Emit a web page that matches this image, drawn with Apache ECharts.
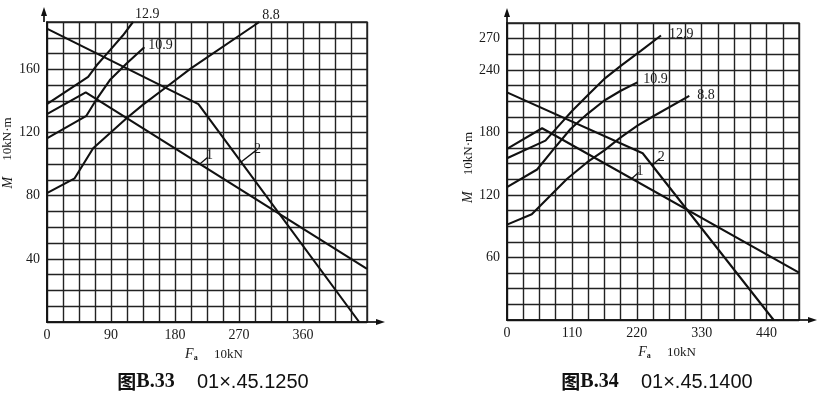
<!DOCTYPE html>
<html>
<head>
<meta charset="utf-8">
<script src="https://cdn.jsdelivr.net/npm/echarts@6/dist/echarts.min.js"></script>
<style>
  html, body { margin: 0; padding: 0; background: #fff; }
  #main { width: 820px; height: 398px; }
</style>
</head>
<body>
<div id="main"></div>
<script>
// 图B.33  01×.45.1250  (Fa 10kN, M 10kN·m)
var b33_12_9 = [[0, 138], [58, 155.3], [70, 162.6], [88.5, 172], [107, 181.6], [121, 190]];
var b33_10_9 = [[0, 116.3], [55.5, 130.6], [70, 141.2], [88.5, 153.2], [112, 163.7], [137, 174]];
var b33_8_8 = [[0, 81.6], [39, 91], [65, 110], [88.5, 119.5], [112, 129], [135.6, 137.8], [168.5, 149], [202, 160.5], [298.6, 190]];
var b33_line1 = [[0, 131.7], [54.6, 145.4], [450, 33.6]];
var b33_line2 = [[0, 185.8], [213, 138], [439, 0]];
var b33XTicks = [0, 90, 180, 270, 360];
var b33YTicks = [40, 80, 120, 160];
var b33Lead1 = [[215, 100], [226.6, 104.5]];
var b33Lead2 = [[273, 101.4], [294, 108.7]];

// 图B.34  01×.45.1400
var b34_12_9 = [[0, 155.2], [65.2, 172.1], [87.9, 186.5], [110.6, 200.8], [136, 215.2], [164.4, 231.1], [192.8, 243.9], [226.8, 258.2], [261, 273]];
var b34_10_9 = [[0, 127.5], [51, 144.4], [79.4, 164.2], [107.7, 183.3], [136, 197.6], [164.4, 210.4], [192.8, 220], [221, 228]];
var b34_8_8 = [[0, 91.5], [42, 101.5], [73.7, 119.5], [102, 135.5], [136, 151.4], [164.4, 162.6], [192.8, 175.3], [221.1, 186.5], [249.5, 196], [309, 215]];
var b34_line1 = [[0, 164.2], [59.5, 184], [495, 45.4]];
var b34_line2 = [[0, 218.4], [230, 160], [452, 0]];
var b34XTicks = [0, 110, 220, 330, 440];
var b34YTicks = [60, 120, 180, 240, 270];
var b34Lead1 = [[212, 136], [223, 141.5]];
var b34Lead2 = [[246, 148.5], [259, 155]];

var L = { left: 44, top: 22, width: 323, height: 300 };
var R = { left: 507, top: 23, width: 292, height: 297 };

var ink = '#111';
var gridInk = '#222';
var serif = 'Liberation Serif';

function tickFmt(ticks) {
  return function (v) {
    for (var i = 0; i < ticks.length; i++) {
      if (Math.abs(ticks[i] - v) < 1e-6) return String(ticks[i]);
    }
    return '';
  };
}

function makeAxis(idx, min, max, interval, ticks, isX, nameText, namePad, gap) {
  return {
    type: 'value',
    gridIndex: idx,
    min: min,
    max: max,
    interval: interval,
    axisLine: { show: true, lineStyle: { color: ink, width: 1.7 } },
    axisTick: { show: false },
    splitLine: { show: true, lineStyle: { color: gridInk, width: 1.4 } },
    axisLabel: {
      formatter: tickFmt(ticks),
      fontFamily: serif,
      fontSize: 14,
      color: '#1a1a1a',
      margin: isX ? 6 : 7,
      showMinLabel: true,
      showMaxLabel: true
    },
    name: nameText,
    nameLocation: 'middle',
    nameGap: gap,
    nameTextStyle: {
      fontFamily: serif,
      fontSize: 13,
      color: '#1a1a1a',
      padding: namePad,
      rich: {
        i: { fontFamily: serif, fontStyle: 'italic', fontSize: 14, color: '#1a1a1a' },
        s: { fontFamily: serif, fontSize: 8, fontWeight: 'bold', color: '#1a1a1a', padding: [7, 0, 0, 0] },
        t: { fontFamily: serif, fontSize: 13, color: '#1a1a1a' }
      }
    }
  };
}

function curve(name, data, ai, lbl, off) {
  var s = {
    name: name,
    type: 'line',
    xAxisIndex: ai,
    yAxisIndex: ai,
    data: data,
    symbol: 'none',
    smooth: false,
    silent: true,
    lineStyle: { color: ink, width: 2.1 }
  };
  if (lbl) {
    s.endLabel = {
      show: true,
      formatter: lbl,
      offset: off,
      fontFamily: serif,
      fontSize: 14,
      color: '#1a1a1a'
    };
  }
  return s;
}

function lead(s, pts, txt) {
  s.markLine = {
    silent: true,
    animation: false,
    symbol: ['none', 'none'],
    lineStyle: { color: ink, width: 1.3, type: 'solid' },
    label: { show: true, position: 'end', formatter: txt, fontFamily: serif, fontSize: 14, color: '#1a1a1a', distance: 2 },
    data: [[{ coord: pts[0] }, { coord: pts[1] }]]
  };
  return s;
}

// 坐标轴箭头
function arrows(g) {
  var x0 = g.left, y0 = g.top + g.height, x1 = g.left + g.width;
  var st = { stroke: ink, lineWidth: 1.7 };
  return [
    { type: 'line', shape: { x1: x0, y1: g.top, x2: x0, y2: g.top - 10 }, style: st },
    { type: 'polygon', shape: { points: [[x0, g.top - 15], [x0 - 3, g.top - 6], [x0 + 3, g.top - 6]] }, style: { fill: ink } },
    { type: 'line', shape: { x1: x1, y1: y0, x2: x1 + 12, y2: y0 }, style: st },
    { type: 'polygon', shape: { points: [[x1 + 18, y0], [x1 + 9, y0 - 3], [x1 + 9, y0 + 3]] }, style: { fill: ink } }
  ];
}

function caption(cx, cy, fig, code) {
  return {
    type: 'text',
    x: cx,
    y: cy,
    style: {
      text: '{z|图}{b|' + fig + '}{n|    ' + code + '}',
      textAlign: 'center',
      textVerticalAlign: 'middle',
      rich: {
        z: { fontFamily: 'Noto Sans CJK SC', fontWeight: 'bold', fontSize: 19, fill: '#111' },
        b: { fontFamily: serif, fontWeight: 'bold', fontSize: 20, fill: '#111' },
        n: { fontFamily: 'Liberation Sans', fontSize: 20, fill: '#111' }
      }
    }
  };
}

var chart = echarts.init(document.getElementById('main'));

var option = {
  animation: false,
  backgroundColor: '#fff',
  grid: [
    { left: L.left, top: L.top, width: L.width, height: L.height, show: true, borderColor: gridInk, borderWidth: 1.4 },
    { left: R.left, top: R.top, width: R.width, height: R.height, show: true, borderColor: gridInk, borderWidth: 1.4 }
  ],
  xAxis: [
    makeAxis(0, 0, 450, 22.5, b33XTicks, true, '{i|F}{s|a}{t|     10kN}', [0, 0, 0, 14], 25),
    makeAxis(1, 0, 495, 27.5, b34XTicks, true, '{i|F}{s|a}{t|     10kN}', [0, 0, 0, 28], 25)
  ],
  yAxis: [
    makeAxis(0, 0, 190, 10, b33YTicks, false, '{i|M}{t|     10kN·m}', [0, 0, 0, 38], 28),
    makeAxis(1, 0, 285, 15, b34YTicks, false, '{i|M}{t|     10kN·m}', [0, 0, 0, 8], 31)
  ],
  series: [
    curve('12.9', b33_12_9, 0, '12.9', [-6, -8]),
    curve('10.9', b33_10_9, 0, '10.9', [-4, -2]),
    curve('8.8', b33_8_8, 0, '8.8', [-5, -7]),
    lead(curve('1', b33_line1, 0), b33Lead1, '1'),
    lead(curve('2', b33_line2, 0), b33Lead2, '2'),
    curve('12.9', b34_12_9, 1, '12.9', [0, -1]),
    curve('10.9', b34_10_9, 1, '10.9', [-2, -3]),
    curve('8.8', b34_8_8, 1, '8.8', [0, -1]),
    lead(curve('1', b34_line1, 1), b34Lead1, '1'),
    lead(curve('2', b34_line2, 1), b34Lead2, '2')
  ],
  graphic: arrows(L).concat(arrows(R)).concat([
    caption(213, 382, 'B.33', '01×.45.1250'),
    caption(657, 382, 'B.34', '01×.45.1400')
  ])
};

chart.setOption(option);
</script>
</body>
</html>
